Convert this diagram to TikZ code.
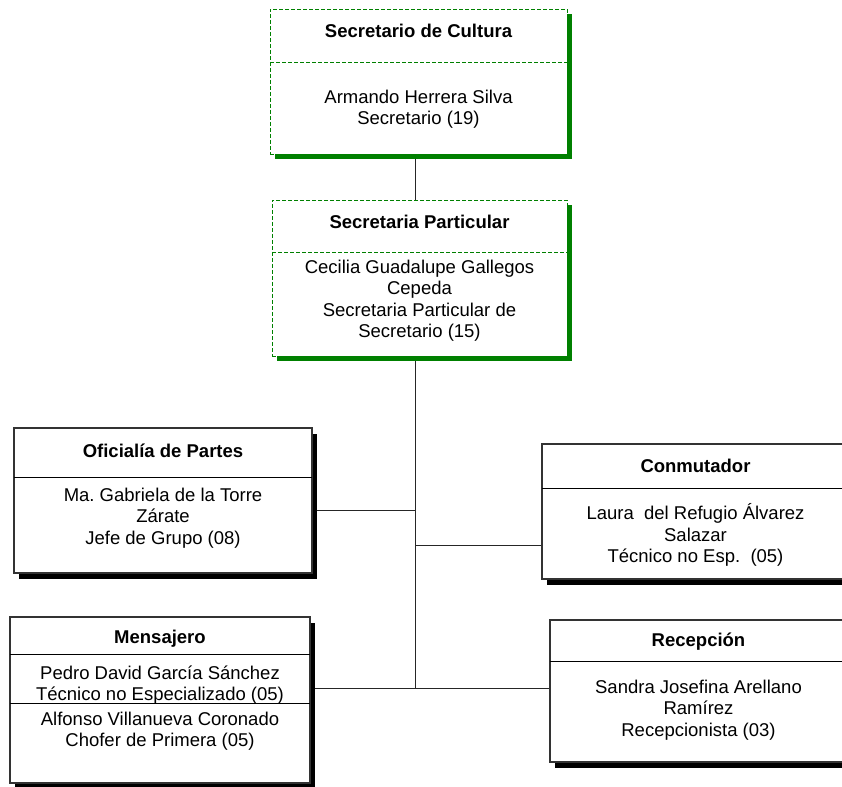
\documentclass[tikz,border=0pt]{standalone}
\usepackage{fontspec}
\setmainfont{Liberation Sans}
\usetikzlibrary{shadows}
\frenchspacing

\definecolor{verde}{RGB}{0,128,0}
\newcommand\tamano{\fontsize{18.5}{21.5}\selectfont}
\pgfdeclarelayer{fondo}
\pgfsetlayers{fondo,main}

\tikzset{
  cajaverde/.style={draw=verde, dashed, dash pattern=on 4pt off 2pt, line width=0.8pt,
    fill=white, inner sep=0pt, outer sep=0pt,
    general shadow={fill=verde, shadow xshift=5pt, shadow yshift=-5pt}},
  cajanegra/.style={draw=black!80, line width=1.2pt, fill=white, inner sep=0pt, outer sep=0pt,
    general shadow={fill=black, shadow xshift=5pt, shadow yshift=-6pt}},
  titulo/.style={font=\tamano\bfseries, align=center, inner sep=0pt},
  cuerpo/.style={font=\tamano, align=center, inner sep=0pt},
  linea/.style={draw=black!85, line width=0.9pt},
  divverde/.style={draw=verde, dash pattern=on 4pt off 2pt, line width=0.8pt},
  divnegra/.style={draw=black, line width=0.9pt},
}

\begin{document}
\begin{tikzpicture}[x=1pt, y=-1pt]
  \path[use as bounding box, clip] (0,0) rectangle (842,786);

  % Cajas
  \node[cajaverde, minimum width=297pt, minimum height=145pt] (secretario) at (418.5,81.5) {};
  \node[cajaverde, minimum width=295pt, minimum height=156pt] (particular) at (419.5,278) {};
  \node[cajanegra, minimum width=298pt, minimum height=145pt] (oficialia) at (163,500.5) {};
  \node[cajanegra, minimum width=307pt, minimum height=135pt] (conmutador) at (695.5,511.5) {};
  \node[cajanegra, minimum width=300pt, minimum height=166pt] (mensajero) at (160,700) {};
  \node[cajanegra, minimum width=297pt, minimum height=142pt] (recepcion) at (698.5,691) {};

  % Divisiones
  \draw[divverde] ([yshift=-53pt]secretario.north west) -- ([yshift=-53pt]secretario.north east);
  \draw[divverde] ([yshift=-52pt]particular.north west) -- ([yshift=-52pt]particular.north east);
  \draw[divnegra] ([yshift=-49pt]oficialia.north west) -- ([yshift=-49pt]oficialia.north east);
  \draw[divnegra] ([yshift=-44pt]conmutador.north west) -- ([yshift=-44pt]conmutador.north east);
  \draw[divnegra] ([yshift=-37pt]mensajero.north west) -- ([yshift=-37pt]mensajero.north east);
  \draw[divnegra] ([yshift=-86pt]mensajero.north west) -- ([yshift=-86pt]mensajero.north east);
  \draw[divnegra] ([yshift=-41pt]recepcion.north west) -- ([yshift=-41pt]recepcion.north east);

  % Textos
  \node[titulo] (secretario-t) at (418.5,31) {Secretario de Cultura};
  \node[cuerpo] (secretario-c) at (418.5,109) {Armando Herrera Silva\\Secretario (19)};

  \node[titulo] (particular-t) at (419.5,222) {Secretaria Particular};
  \node[cuerpo] (particular-c) at (419.5,300.5) {Cecilia Guadalupe Gallegos\\Cepeda\\Secretaria Particular de\\Secretario (15)};

  \node[titulo] (oficialia-t) at (163,451) {Oficialía de Partes};
  \node[cuerpo] (oficialia-c) at (163,518) {Ma. Gabriela de la Torre\\Zárate\\Jefe de Grupo (08)};

  \node[titulo] (conmutador-t) at (695.5,466) {Conmutador};
  \node[cuerpo] (conmutador-c) at (695.5,535) {Laura~ del Refugio Álvarez\\Salazar\\Técnico no Esp.~ (05)};

  \node[titulo] (mensajero-t) at (160,639) {Mensajero};
  \node[cuerpo] (mensajero-c1) at (160,685) {Pedro David García Sánchez\\Técnico no Especializado (05)};
  \node[cuerpo] (mensajero-c2) at (160,731) {Alfonso Villanueva Coronado\\Chofer de Primera (05)};

  \node[titulo] (recepcion-t) at (698.5,642) {Recepción};
  \node[cuerpo] (recepcion-c) at (698.5,710) {Sandra Josefina Arellano\\Ramírez\\Recepcionista (03)};

  % Conectores
  \coordinate (base) at (415.5,688);
  \coordinate (t-ofi) at (415.5,510);
  \coordinate (t-con) at (415.5,545);
  \begin{pgfonlayer}{fondo}
    \draw[linea] (secretario.south -| base) -- (particular.north -| base);
    \draw[linea] (particular.south -| base) -- (base);
    \draw[linea] (oficialia.east |- t-ofi) -- (t-ofi);
    \draw[linea] (t-con) -- (conmutador.west |- t-con);
    \draw[linea] (mensajero.east |- base) -- (base);
    \draw[linea] (base) -- (recepcion.west |- base);
  \end{pgfonlayer}
\end{tikzpicture}
\end{document}
